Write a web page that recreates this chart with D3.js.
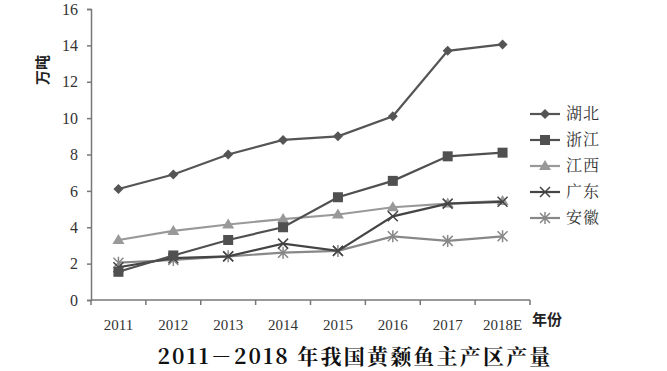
<!DOCTYPE html>
<html>
  <head>
    <meta charset="utf-8" />
    <title>黄颡鱼主产区产量</title>
    <script src="https://d3js.org/d3.v7.min.js"></script>
    <style>
      body {
        margin: 0;
        background: #fff;
      }
    </style>
  </head>
  <body>
    <svg id="chart"></svg>

    <script>
      var years = ["2011", "2012", "2013", "2014", "2015", "2016", "2017", "2018E"];
      var names = ["湖北", "浙江", "江西", "广东", "安徽"];
      var hubei = [6.1, 6.9, 8.0, 8.8, 9.0, 10.1, 13.7, 14.05];
      var zhejiang = [1.55, 2.45, 3.3, 4.0, 5.65, 6.55, 7.9, 8.1];
      var jiangxi = [3.3, 3.8, 4.15, 4.45, 4.7, 5.1, 5.3, 5.45];
      var guangdong = [1.8, 2.3, 2.4, 3.1, 2.7, 4.6, 5.3, 5.4];
      var anhui = [2.05, 2.2, 2.4, 2.6, 2.7, 3.5, 3.25, 3.5];
      var yTicks = [0, 2, 4, 6, 8, 10, 12, 14, 16];

      var series = [
        { name: names[0], values: hubei, color: "#555", marker: "diamond" },
        { name: names[1], values: zhejiang, color: "#505050", marker: "square" },
        { name: names[2], values: jiangxi, color: "#999", marker: "triangle" },
        { name: names[3], values: guangdong, color: "#444", marker: "x" },
        { name: names[4], values: anhui, color: "#888", marker: "star" }
      ];

      var width = 667;
      var height = 371;
      var margin = { top: 9, right: 137, bottom: 71, left: 91 };

      var svg = d3.select("#chart")
        .attr("width", width)
        .attr("height", height);

      var x = d3.scaleBand()
        .domain(years)
        .range([margin.left, width - margin.right]);

      var y = d3.scaleLinear()
        .domain([0, 16])
        .range([height - margin.bottom, margin.top]);

      var serif = "'Liberation Serif', 'DejaVu Serif', serif";
      var cjk = "'Noto Sans CJK SC', sans-serif";

      // y axis
      var yAxis = svg.append("g")
        .attr("transform", "translate(" + margin.left + ",0)")
        .call(d3.axisLeft(y).tickValues(yTicks).tickSize(4).tickPadding(9));
      yAxis.selectAll("path, line").attr("stroke", "#777").attr("stroke-width", 1.5);
      yAxis.selectAll("text")
        .attr("font-family", serif)
        .attr("font-size", 16)
        .attr("fill", "#333");

      // x axis, ticks on band edges
      var xAxis = svg.append("g")
        .attr("transform", "translate(0," + y(0) + ")");
      xAxis.append("line")
        .attr("x1", margin.left).attr("x2", width - margin.right)
        .attr("stroke", "#777").attr("stroke-width", 1.5);
      var edges = years.map(function(d) { return x(d); }).concat([x(years[years.length - 1]) + x.bandwidth()]);
      xAxis.selectAll(".edge")
        .data(edges)
        .enter().append("line")
        .attr("class", "edge")
        .attr("x1", function(d) { return d; })
        .attr("x2", function(d) { return d; })
        .attr("y1", 0).attr("y2", 5)
        .attr("stroke", "#777").attr("stroke-width", 1.5);
      xAxis.selectAll(".lbl")
        .data(years)
        .enter().append("text")
        .attr("class", "lbl")
        .attr("x", function(d) { return x(d) + x.bandwidth() / 2; })
        .attr("y", 30)
        .attr("text-anchor", "middle")
        .attr("font-family", serif)
        .attr("font-size", 15)
        .attr("fill", "#333")
        .text(function(d) { return d; });

      // axis titles
      svg.append("text")
        .attr("transform", "translate(48,70) rotate(-90)")
        .attr("text-anchor", "middle")
        .attr("font-family", cjk)
        .attr("font-size", 15)
        .attr("font-weight", "bold")
        .attr("fill", "#222")
        .text("万吨");

      svg.append("text")
        .attr("x", 532)
        .attr("y", 325)
        .attr("font-family", cjk)
        .attr("font-size", 15)
        .attr("font-weight", "bold")
        .attr("fill", "#222")
        .text("年份");

      svg.append("text")
        .attr("x", 355)
        .attr("y", 364)
        .attr("text-anchor", "middle")
        .attr("font-family", "'Noto Serif CJK SC', 'Liberation Serif', 'Noto Sans CJK SC', serif")
        .attr("font-size", 21)
        .attr("font-weight", "bold")
        .attr("letter-spacing", 2.2)
        .attr("fill", "#111")
        .text("2011－2018 年我国黄颡鱼主产区产量");

      function drawMarker(g, type, color, cx, cy) {
        if (type === "diamond") {
          g.append("path")
            .attr("d", "M" + cx + "," + (cy - 5) + "L" + (cx + 5) + "," + cy + "L" + cx + "," + (cy + 5) + "L" + (cx - 5) + "," + cy + "Z")
            .attr("fill", color);
        } else if (type === "square") {
          g.append("rect")
            .attr("x", cx - 5).attr("y", cy - 5)
            .attr("width", 10).attr("height", 10)
            .attr("fill", color);
        } else if (type === "triangle") {
          g.append("path")
            .attr("d", "M" + cx + "," + (cy - 6) + "L" + (cx + 6) + "," + (cy + 4) + "L" + (cx - 6) + "," + (cy + 4) + "Z")
            .attr("fill", color);
        } else if (type === "x") {
          g.append("path")
            .attr("d", "M" + (cx - 5) + "," + (cy - 5) + "L" + (cx + 5) + "," + (cy + 5) + "M" + (cx + 5) + "," + (cy - 5) + "L" + (cx - 5) + "," + (cy + 5))
            .attr("stroke", color).attr("stroke-width", 1.5);
        } else {
          g.append("path")
            .attr("d", "M" + (cx - 5) + "," + (cy - 5) + "L" + (cx + 5) + "," + (cy + 5) + "M" + (cx + 5) + "," + (cy - 5) + "L" + (cx - 5) + "," + (cy + 5) + "M" + cx + "," + (cy - 6) + "L" + cx + "," + (cy + 6))
            .attr("stroke", color).attr("stroke-width", 1.5);
        }
      }

      var line = d3.line()
        .x(function(d, i) { return x(years[i]) + x.bandwidth() / 2; })
        .y(function(d) { return y(d); });

      // draw lighter series first so dark ones stay on top
      var order = [4, 2, 3, 1, 0];
      order.forEach(function(k) {
        var s = series[k];
        var g = svg.append("g");
        g.append("path")
          .datum(s.values)
          .attr("d", line)
          .attr("fill", "none")
          .attr("stroke", s.color)
          .attr("stroke-width", 2.2);
        s.values.forEach(function(v, i) {
          drawMarker(g, s.marker, s.color, x(years[i]) + x.bandwidth() / 2, y(v));
        });
      });

      // legend
      var legend = svg.append("g");
      series.forEach(function(s, i) {
        var ly = 114 + i * 26;
        legend.append("line")
          .attr("x1", 530).attr("x2", 560)
          .attr("y1", ly).attr("y2", ly)
          .attr("stroke", s.color).attr("stroke-width", 2.2);
        drawMarker(legend, s.marker, s.color, 545, ly);
        legend.append("text")
          .attr("x", 566)
          .attr("y", ly + 5)
          .attr("font-family", "'Noto Serif CJK SC', 'Noto Sans CJK SC', serif")
          .attr("font-size", 16)
          .attr("letter-spacing", 1)
          .attr("fill", "#333")
          .text(s.name);
      });
    </script>
  </body>
</html>
